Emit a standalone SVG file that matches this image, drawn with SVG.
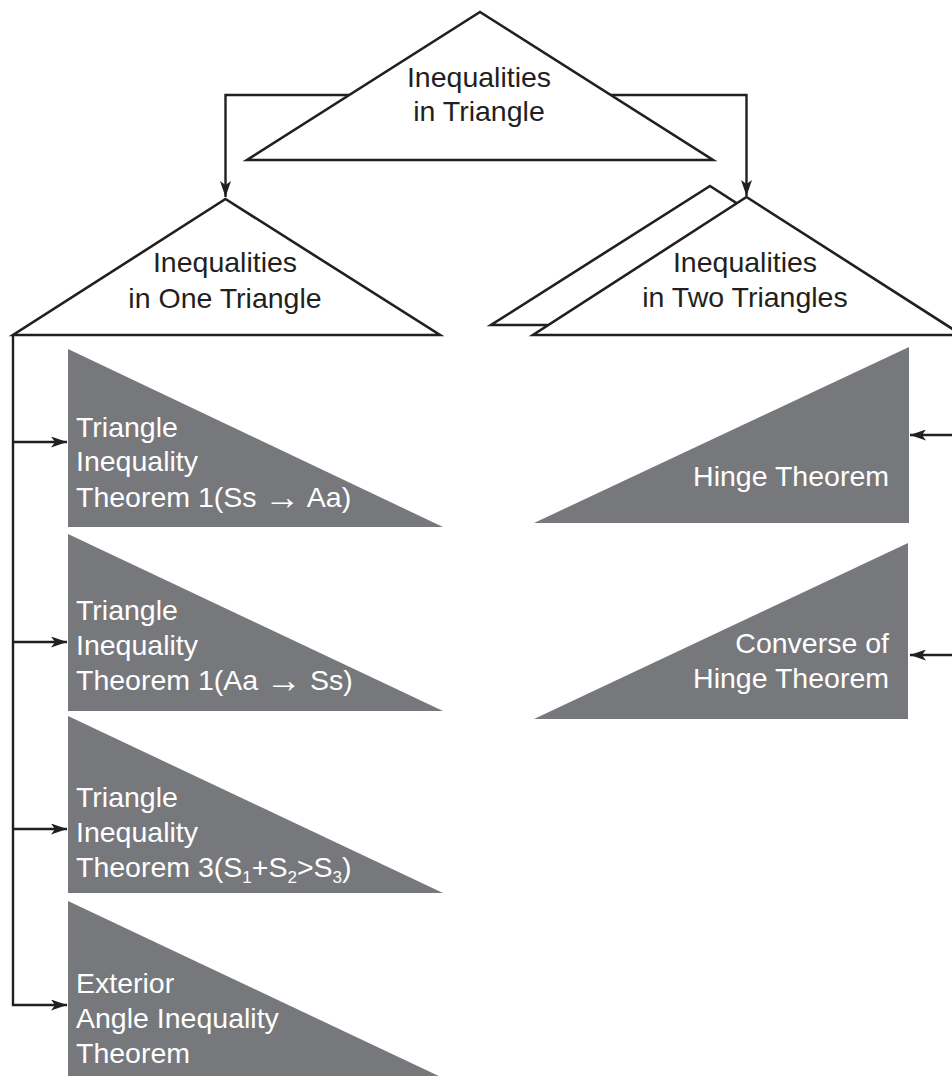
<svg xmlns="http://www.w3.org/2000/svg" width="952" height="1076" viewBox="0 0 952 1076">
<style>
.t{font-family:"Liberation Sans",Arial,Helvetica,sans-serif;font-size:28.5px}
.ar{font-size:36px}
.dk{fill:#231f20}
.wt{fill:#ffffff}
.out{fill:#ffffff;stroke:#231f20;stroke-width:2.6;stroke-linejoin:miter}
.gray{fill:#77787b}
.con{fill:none;stroke:#231f20;stroke-width:2.4}
</style>
<defs>
<marker id="ah" viewBox="0 0 16 11" refX="16" refY="5.5" markerWidth="16" markerHeight="11" markerUnits="userSpaceOnUse" orient="auto">
<path d="M0,0 L16,5.5 L0,11 L4,5.5 Z" fill="#231f20"/>
</marker>
</defs>
<g id="connectors">
<polyline class="con" points="480,95 225.5,95 225.5,197" marker-end="url(#ah)"/>
<polyline class="con" points="480,95 746.5,95 746.5,196" marker-end="url(#ah)"/>
<polyline class="con" points="13,335 13,1005 67,1005" marker-end="url(#ah)"/>
<line class="con" x1="13" y1="442" x2="67" y2="442" marker-end="url(#ah)"/>
<line class="con" x1="13" y1="642" x2="67" y2="642" marker-end="url(#ah)"/>
<line class="con" x1="13" y1="829" x2="67" y2="829" marker-end="url(#ah)"/>
<line class="con" x1="952" y1="435" x2="910" y2="435" marker-end="url(#ah)"/>
<line class="con" x1="952" y1="655" x2="910" y2="655" marker-end="url(#ah)"/>
</g>
<g id="node-top">
<polygon class="out" points="480,12 713,160 247,160"/>
<text class="t dk" x="479" y="87" text-anchor="middle">Inequalities</text>
<text class="t dk" x="479" y="121" text-anchor="middle">in Triangle</text>
</g>
<g id="node-one">
<polygon class="out" points="225.5,199 440,335 13,335"/>
<text class="t dk" x="225" y="272" text-anchor="middle">Inequalities</text>
<text class="t dk" x="225" y="308" text-anchor="middle">in One Triangle</text>
</g>
<g id="node-two">
<polygon class="out" points="710,186 925,325 491,325"/>
<polygon class="out" points="746.5,197 962,335 533,335"/>
<text class="t dk" x="745" y="272" text-anchor="middle">Inequalities</text>
<text class="t dk" x="745" y="307" text-anchor="middle">in Two Triangles</text>
</g>
<g id="node-ti1">
<polygon class="gray" points="68,349 443,527 68,527"/>
<text class="t wt" x="76" y="437">Triangle</text>
<text class="t wt" x="76" y="471">Inequality</text>
<text class="t wt" x="76" y="507">Theorem 1(Ss <tspan class="ar" dy="2">→</tspan><tspan dy="-2"> Aa)</tspan></text>
</g>
<g id="node-ti2">
<polygon class="gray" points="68,534 443,711 68,711"/>
<text class="t wt" x="76" y="620">Triangle</text>
<text class="t wt" x="76" y="655">Inequality</text>
<text class="t wt" x="76" y="690">Theorem 1(Aa <tspan class="ar" dy="2">→</tspan><tspan dy="-2"> Ss)</tspan></text>
</g>
<g id="node-ti3">
<polygon class="gray" points="68,716 443,893 68,893"/>
<text class="t wt" x="76" y="807">Triangle</text>
<text class="t wt" x="76" y="842">Inequality</text>
<text class="t wt" x="76" y="877">Theorem 3(S<tspan font-size="17" dy="6">1</tspan><tspan dy="-6">+S</tspan><tspan font-size="17" dy="6">2</tspan><tspan dy="-6">&gt;S</tspan><tspan font-size="17" dy="6">3</tspan><tspan dy="-6">)</tspan></text>
</g>
<g id="node-eai">
<polygon class="gray" points="68,901 443,1078 68,1078"/>
<text class="t wt" x="76" y="993">Exterior</text>
<text class="t wt" x="76" y="1028">Angle Inequality</text>
<text class="t wt" x="76" y="1063">Theorem</text>
</g>
<g id="node-hinge">
<polygon class="gray" points="909,347 909,523 534,523"/>
<text class="t wt" x="889" y="486" text-anchor="end">Hinge Theorem</text>
</g>
<g id="node-converse">
<polygon class="gray" points="908,543 908,719 534,719"/>
<text class="t wt" x="889" y="653" text-anchor="end">Converse of</text>
<text class="t wt" x="889" y="688" text-anchor="end">Hinge Theorem</text>
</g>
</svg>
